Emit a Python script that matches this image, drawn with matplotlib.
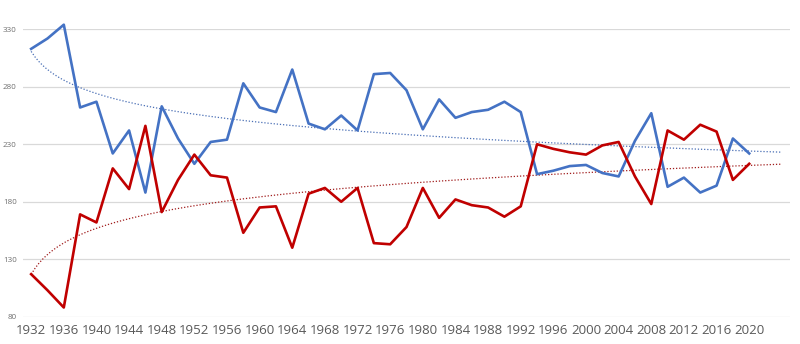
import matplotlib
matplotlib.use('Agg')
import matplotlib.pyplot as plt
import numpy as np

# election years and seats
years = list(range(1932, 2021, 2))
blue = [313, 322, 334, 262, 267, 222, 242, 188, 263, 235, 213, 232, 234, 283,
        262, 258, 295, 248, 243, 255, 242, 291, 292, 277, 243, 269, 253, 258,
        260, 267, 258, 204, 207, 211, 212, 205, 202, 233, 257, 193, 201, 188,
        194, 235, 222]
red = [117, 103, 88, 169, 162, 209, 191, 246, 171, 199, 221, 203, 201, 153,
       175, 176, 140, 187, 192, 180, 192, 144, 143, 158, 192, 166, 182, 177,
       175, 167, 176, 230, 226, 223, 221, 229, 232, 202, 178, 242, 234, 247,
       241, 199, 213]
yticks = [80, 130, 180, 230, 280, 330]
xticks = list(range(1932, 2021, 4))

blue_c = '#4472C4'
red_c = '#C00000'
grey = '#595959'

plt.rcParams['font.family'] = ['Open Sans', 'DejaVu Sans']

fig = plt.figure(figsize=(8, 3.44), dpi=100)
ax = fig.add_axes([23/800, (344-316.7)/344, (790-23)/800, (316.7-29.3)/344])

ax.plot(years, blue, color=blue_c, lw=1.9, zorder=3, clip_on=False)
ax.plot(years, red, color=red_c, lw=1.9, zorder=3, clip_on=False)

# logarithmic trendlines on category index, forecast 2 periods forward
idx = np.arange(1, len(years) + 1)
idx_ext = np.linspace(1, len(years) + 2, 200)
yrs_ext = years[0] + 2 * (idx_ext - 1)
for vals, c in [(blue, '#4A6FB5'), (red, '#A01C1C')]:
    a, b = np.polyfit(np.log(idx), vals, 1)
    ax.plot(yrs_ext, a * np.log(idx_ext) + b, color=c, lw=0.9,
            ls=(0, (1, 1.5)), zorder=2)

ax.set_xlim(1931, 2025)
ax.set_ylim(80, 330)
ax.set_yticks(yticks)
ax.set_xticks(xticks)
ax.grid(axis='y', color='#D9D9D9', lw=0.9)
ax.set_axisbelow(True)
for s in ax.spines.values():
    s.set_visible(False)
ax.tick_params(axis='y', length=0, labelsize=5.8, labelcolor='#707070', pad=4.5)
ax.tick_params(axis='x', length=0, labelsize=9.5, labelcolor=grey, pad=5)

fig.savefig('out.png', dpi=100, facecolor='white')
